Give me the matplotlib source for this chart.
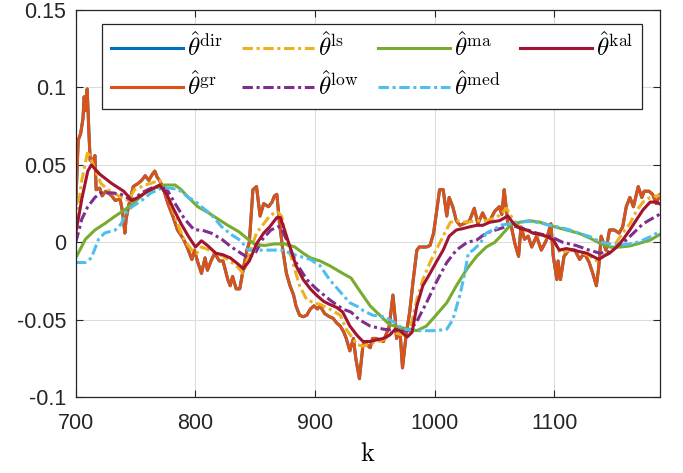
import matplotlib
matplotlib.use('Agg')
import matplotlib.pyplot as plt
import numpy as np

plt.rcParams['font.family'] = ['Liberation Sans', 'DejaVu Sans']
plt.rcParams['mathtext.fontset'] = 'cm'

# ---- data ----
k_gr = [700, 702, 704, 706, 707, 708, 709.5, 711, 712, 714, 716, 717, 720, 722, 725, 727, 730, 733,
        737, 739, 741, 742, 744, 748, 752, 755, 758, 761, 764, 766, 768, 770, 773, 777, 781, 785,
        790, 793, 797, 799, 802, 805, 808, 810, 813, 816, 820, 823, 827, 829, 831, 834, 837, 840,
        843, 845, 848, 851, 854, 857, 861, 864, 866, 868, 870, 873, 876, 879, 882, 884, 887, 890,
        893, 896, 899, 902, 904, 908, 912, 915, 918, 921, 924, 926, 929, 932, 934, 937, 940, 943,
        946, 948, 951, 954, 957, 960, 962, 965, 967, 968, 971, 973, 976, 979, 982, 985, 987, 990,
        993, 996, 999, 1001, 1004, 1007, 1010, 1012, 1015, 1018, 1021, 1024, 1027, 1029, 1033,
        1036, 1040, 1043, 1046, 1050, 1054, 1056, 1058, 1059, 1061, 1064, 1067, 1070, 1072, 1075,
        1078, 1081, 1085, 1089, 1093, 1097, 1099, 1102, 1103, 1105, 1108, 1112, 1117, 1121, 1125,
        1129, 1132, 1135, 1137, 1139, 1143, 1146, 1150, 1154, 1157, 1160, 1163, 1166, 1170, 1173,
        1175, 1179, 1182, 1185, 1188, 1190]
gr = [0.025, 0.066, 0.070, 0.080, 0.094, 0.085, 0.099, 0.070, 0.053, 0.052, 0.056, 0.034, 0.035,
      0.030, 0.033, 0.032, 0.030, 0.027, 0.028, 0.020, 0.006, 0.015, 0.023, 0.036, 0.038, 0.040,
      0.043, 0.040, 0.044, 0.046, 0.042, 0.040, 0.035, 0.025, 0.017, 0.008, 0.002, -0.003, -0.011,
      -0.005, -0.013, -0.020, -0.010, -0.018, -0.012, -0.007, -0.012, -0.012, -0.024, -0.028,
      -0.022, -0.030, -0.030, -0.017, -0.005, 0.000, 0.034, 0.036, 0.017, 0.025, 0.023, 0.026,
      0.030, 0.031, 0.014, -0.005, -0.020, -0.028, -0.034, -0.041, -0.047, -0.048, -0.047,
      -0.043, -0.041, -0.043, -0.041, -0.046, -0.048, -0.049, -0.052, -0.054, -0.058, -0.062,
      -0.070, -0.062, -0.075, -0.088, -0.066, -0.066, -0.068, -0.062, -0.062, -0.063, -0.064,
      -0.058, -0.054, -0.034, -0.050, -0.062, -0.058, -0.081, -0.060, -0.045, -0.024, -0.005,
      -0.003, -0.003, -0.003, -0.002, 0.006, 0.017, 0.034, 0.034, 0.017, 0.029, 0.023, 0.014,
      0.011, 0.012, 0.013, 0.014, 0.022, 0.012, 0.019, 0.014, 0.014, 0.020, 0.023, 0.018, 0.034,
      0.027, 0.012, 0.010, -0.001, -0.009, 0.010, 0.002, 0.004, -0.003, 0.004, -0.005, 0.001,
      0.012, -0.009, -0.024, -0.012, -0.024, -0.009, -0.005, -0.005, -0.011, -0.007, -0.013,
      -0.020, -0.028, -0.016, 0.004, -0.005, 0.008, 0.008, 0.006, 0.010, 0.023, 0.029, 0.023,
      0.036, 0.029, 0.033, 0.033, 0.031, 0.025, 0.031, 0.030]
# theta_dir coincides with theta_gr
k_dir = k_gr
dirv = gr

k_ls = [700, 705, 710, 716, 721, 727, 738, 744, 749, 758, 766, 770, 774, 780, 786, 791, 797, 801,
        805, 812, 823, 834, 840, 845, 851, 857, 862, 868, 872, 876, 882, 887, 893, 899, 904, 912,
        921, 926, 935, 940, 948, 957, 965, 974, 979, 985, 990, 996, 1001, 1007, 1013, 1018, 1027,
        1035, 1043, 1051, 1055, 1060, 1066, 1074, 1082, 1091, 1099, 1105, 1113, 1121, 1130, 1135,
        1141, 1149, 1157, 1163, 1169, 1174, 1180, 1185, 1190]
ls = [0.012, 0.040, 0.059, 0.047, 0.038, 0.034, 0.029, 0.027, 0.034, 0.037, 0.039, 0.040, 0.036,
      0.023, 0.010, 0.001, -0.005, -0.007, -0.003, -0.005, -0.009, -0.015, -0.020, -0.007, 0.006,
      0.012, 0.017, 0.020, 0.017, 0.002, -0.015, -0.028, -0.037, -0.039, -0.040, -0.043, -0.047,
      -0.056, -0.066, -0.067, -0.065, -0.063, -0.058, -0.060, -0.057, -0.037, -0.024, -0.013,
      -0.005, 0.004, 0.013, 0.014, 0.013, 0.014, 0.014, 0.016, 0.018, 0.022, 0.014, 0.008, 0.006,
      0.004, 0.0015, -0.007, -0.005, -0.006, -0.009, -0.012, -0.009, -0.003, 0.006, 0.012, 0.021,
      0.026, 0.029, 0.030, 0.030]

k_low = [700, 705, 710, 716, 721, 730, 738, 747, 755, 763, 772, 777, 783, 791, 799, 805, 813, 822,
         830, 838, 844, 850, 856, 863, 869, 871, 876, 884, 893, 901, 912, 923, 930, 937, 946, 957,
         968, 979, 985, 993, 1001, 1010, 1018, 1027, 1035, 1043, 1051, 1063, 1074, 1085, 1096,
         1107, 1118, 1129, 1138, 1146, 1157, 1166, 1174, 1183, 1190]
low = [0.000, 0.015, 0.023, 0.029, 0.032, 0.032, 0.031, 0.027, 0.032, 0.035, 0.036, 0.033, 0.025,
       0.015, 0.008, 0.008, 0.006, 0.002, -0.003, -0.007, -0.010, -0.007, 0.002, 0.008, 0.010,
       0.010, 0.002, -0.013, -0.024, -0.030, -0.037, -0.043, -0.045, -0.050, -0.054, -0.056,
       -0.057, -0.057, -0.051, -0.039, -0.026, -0.013, -0.005, 0.000, 0.0015, 0.006, 0.008, 0.011,
       0.009, 0.006, 0.004, 0.000, -0.002, -0.005, -0.007, -0.006, -0.0006, 0.006, 0.012, 0.016,
       0.019]

k_ma = [700, 708, 716, 724, 733, 741, 749, 758, 766, 774, 783, 788, 794, 802, 811, 819, 827, 836,
        844, 850, 858, 866, 875, 883, 890, 896, 904, 912, 923, 930, 937, 946, 954, 962, 971, 979,
        985, 993, 1001, 1010, 1018, 1027, 1035, 1043, 1050, 1055, 1063, 1071, 1079, 1088, 1096,
        1105, 1113, 1121, 1130, 1138, 1146, 1155, 1163, 1171, 1180, 1190]
ma = [-0.010, 0.002, 0.008, 0.012, 0.017, 0.021, 0.026, 0.032, 0.035, 0.037, 0.037, 0.034, 0.029,
      0.023, 0.019, 0.015, 0.011, 0.007, 0.002, -0.0015, -0.002, -0.001, -0.001, -0.003, -0.007,
      -0.010, -0.012, -0.015, -0.020, -0.023, -0.031, -0.041, -0.047, -0.053, -0.055, -0.056,
      -0.057, -0.054, -0.047, -0.039, -0.028, -0.017, -0.009, -0.003, 0.000, 0.004, 0.011, 0.013,
      0.014, 0.013, 0.011, 0.009, 0.0074, 0.0057, 0.0026, -0.0006, -0.003, -0.003, -0.0023,
      -0.0006, 0.0015, 0.006]

k_med = [700, 708, 713, 719, 724, 733, 738, 742, 747, 755, 763, 772, 779, 786, 794, 799, 805, 813,
         822, 830, 838, 844, 850, 861, 872, 879, 887, 896, 904, 912, 921, 929, 937, 940, 948, 957,
         965, 974, 982, 993, 1001, 1010, 1015, 1021, 1025, 1028, 1032, 1038, 1043, 1051, 1054,
         1063, 1071, 1079, 1088, 1096, 1105, 1113, 1121, 1130, 1138, 1146, 1155, 1163, 1171, 1180,
         1190]
med = [-0.013, -0.013, -0.010, 0.002, 0.006, 0.008, 0.012, 0.019, 0.023, 0.027, 0.032, 0.035,
       0.035, 0.034, 0.029, 0.027, 0.023, 0.018, 0.010, 0.005, 0.001, -0.005, -0.005, -0.005,
       -0.005, -0.007, -0.009, -0.011, -0.015, -0.024, -0.032, -0.039, -0.042, -0.044, -0.047,
       -0.048, -0.051, -0.056, -0.057, -0.057, -0.057, -0.056, -0.050, -0.034, -0.020, -0.007,
       -0.005, -0.0006, 0.006, 0.009, 0.011, 0.012, 0.013, 0.0136, 0.0125, 0.011, 0.0096, 0.008,
       0.0057, 0.0036, 0.0004, -0.001, -0.0017, -0.001, 0.0004, 0.0036, 0.0079]

k_kal = [700, 705, 710, 713, 720, 730, 740, 747, 752, 760, 770, 776, 782, 788, 794, 800, 805, 810,
         817, 823, 829, 834, 840, 845, 851, 857, 862, 868, 871, 874, 879, 884, 890, 896, 901, 907,
         912, 918, 923, 929, 935, 940, 946, 951, 957, 962, 967, 971, 977, 981, 985, 990, 996, 1001,
         1007, 1012, 1018, 1024, 1029, 1035, 1040, 1046, 1054, 1061, 1066, 1071, 1077, 1082, 1088,
         1093, 1099, 1104, 1110, 1116, 1121, 1127, 1132, 1137, 1141, 1146, 1152, 1157, 1163, 1168,
         1174, 1180, 1185, 1190]
kal = [0.006, 0.028, 0.046, 0.050, 0.044, 0.038, 0.033, 0.027, 0.029, 0.033, 0.037, 0.031, 0.021,
       0.012, 0.004, -0.003, 0.001, -0.002, -0.007, -0.008, -0.010, -0.013, -0.017, -0.012, -0.001,
       0.006, 0.010, 0.016, 0.016, 0.009, -0.003, -0.015, -0.024, -0.030, -0.034, -0.038, -0.040,
       -0.042, -0.045, -0.054, -0.060, -0.064, -0.064, -0.063, -0.062, -0.060, -0.056, -0.057,
       -0.061, -0.058, -0.041, -0.028, -0.020, -0.013, -0.005, 0.004, 0.008, 0.009, 0.010, 0.011,
       0.011, 0.013, 0.014, 0.017, 0.012, 0.009, 0.008, 0.006, 0.005, 0.004, 0.0015, -0.005,
       -0.004, -0.005, -0.006, -0.007, -0.009, -0.011, -0.009, -0.007, -0.003, 0.0015, 0.008,
       0.014, 0.021, 0.026, 0.026, 0.024]

xticks = [700, 800, 900, 1000, 1100]
yticks = [-0.1, -0.05, 0, 0.05, 0.1, 0.15]
ytick_labels = ['-0.1', '-0.05', '0', '0.05', '0.1', '0.15']

# MATLAB default colours
c_blue, c_orange, c_yellow = '#0072BD', '#D95319', '#EDB120'
c_purple, c_green, c_cyan, c_red = '#7E2F8E', '#77AC30', '#4DBEEE', '#A2142F'
dashdot = (0, (3.4, 1.2, 1.0, 1.2))
lw = 2.2

fig = plt.figure(figsize=(6.83, 4.73), dpi=100)
ax = fig.add_axes([0.111, 0.160, 0.855, 0.819])

ax.plot(k_dir, dirv, color=c_blue, lw=lw, label=r'$\hat{\theta}^{\mathrm{dir}}$')
ax.plot(k_gr, gr, color=c_orange, lw=lw, label=r'$\hat{\theta}^{\mathrm{gr}}$')
ax.plot(k_ls, ls, color=c_yellow, lw=lw, ls=dashdot, label=r'$\hat{\theta}^{\mathrm{ls}}$')
ax.plot(k_low, low, color=c_purple, lw=lw, ls=dashdot, label=r'$\hat{\theta}^{\mathrm{low}}$')
ax.plot(k_ma, ma, color=c_green, lw=lw, label=r'$\hat{\theta}^{\mathrm{ma}}$')
ax.plot(k_med, med, color=c_cyan, lw=lw, ls=dashdot, label=r'$\hat{\theta}^{\mathrm{med}}$')
ax.plot(k_kal, kal, color=c_red, lw=lw, label=r'$\hat{\theta}^{\mathrm{kal}}$')

ax.set_xlim(700, 1188)
ax.set_ylim(-0.1, 0.15)
ax.set_xticks(xticks)
ax.set_yticks(yticks)
ax.set_yticklabels(ytick_labels)
ax.tick_params(direction='in', length=5, width=0.8, top=True, right=True,
               labelsize=15.5, colors='#262626')
ax.tick_params(axis='x', pad=11)
ax.tick_params(axis='y', pad=7)
ax.grid(True, color='#dcdcdc', lw=0.8)
ax.set_axisbelow(True)
for s in ax.spines.values():
    s.set_color('#262626')
    s.set_linewidth(0.9)

ax.set_xlabel(r'$\mathrm{k}$', fontsize=19, labelpad=6)

leg = ax.legend(ncol=4, loc='lower left', bbox_to_anchor=(0.0445, 0.744, 0.925, 0.212),
                mode='expand', fontsize=18, handlelength=2.9, handletextpad=0.15,
                columnspacing=0.6, borderaxespad=0, fancybox=False, framealpha=1,
                edgecolor='#262626', labelspacing=0.4, borderpad=0.35)
leg.get_frame().set_linewidth(0.9)

fig.savefig('out.png', dpi=100)
